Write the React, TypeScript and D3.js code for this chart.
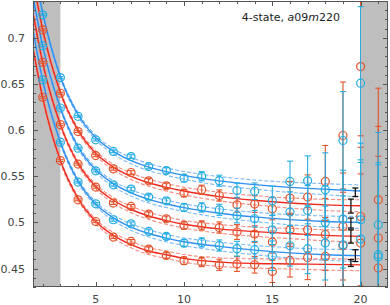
import React, { useEffect, useRef } from 'react';
import * as d3 from 'd3';

// time slices
const tValues = [2, 3, 4, 5, 6, 7, 8, 9, 10, 11, 12, 13, 14, 15, 16, 17, 18, 19, 20, 21];

// data points, top curve first
const blue1 = [0.725, 0.657, 0.615, 0.5895, 0.577, 0.5714, 0.5606, 0.5563, 0.548, 0.55, 0.5452, 0.5346, 0.5338, 0.5234, 0.5444, 0.5451, 0.5354, 0.5888, 0.6509, 0.4975];
const red1 = [0.7087, 0.64, 0.5985, 0.5725, 0.5581, 0.5541, 0.5451, 0.5397, 0.5318, 0.5354, 0.5292, 0.5191, 0.5199, 0.5148, 0.5264, 0.5275, 0.5444, 0.5942, 0.6689, 0.5245];
const blue2 = [0.6916, 0.624, 0.5805, 0.5559, 0.5408, 0.5361, 0.5275, 0.5234, 0.5162, 0.5162, 0.5137, 0.5075, 0.504, 0.492, 0.5112, 0.5129, 0.4999, 0.5036, 0.5029, 0.465];
const red2 = [0.6736, 0.606, 0.5632, 0.5383, 0.521, 0.5173, 0.509, 0.504, 0.4967, 0.4967, 0.4945, 0.4896, 0.4874, 0.4787, 0.492, 0.492, 0.487, 0.4956, 0.5064, 0.4831];
const blue3 = [0.6545, 0.587, 0.5437, 0.5202, 0.5029, 0.4985, 0.4902, 0.4848, 0.4776, 0.4783, 0.475, 0.4715, 0.4704, 0.4639, 0.4747, 0.4715, 0.4776, 0.4758, 0.482, 0.4625];
const red3 = [0.6357, 0.567, 0.5245, 0.501, 0.4841, 0.4794, 0.4711, 0.4642, 0.4585, 0.4571, 0.4541, 0.4549, 0.4541, 0.4469, 0.4588, 0.462, 0.4631, 0.4747, 0.4776, 0.4506];

const blueErr = [0.001, 0.001, 0.001, 0.0012, 0.0015, 0.002, 0.0025, 0.003, 0.004, 0.005, 0.006, 0.008, 0.009, 0.016, 0.022, 0.027, 0.04, 0.053, 0.083, 0.1];
const redErr = [0.001, 0.001, 0.001, 0.0012, 0.0015, 0.002, 0.0025, 0.003, 0.004, 0.005, 0.006, 0.008, 0.009, 0.012, 0.018, 0.024, 0.039, 0.058, 0.075, 0.121];

// fit curves read at these t
const fitT = [1.45, 2, 3, 4, 5, 6, 7, 8, 9, 10, 12, 14, 16, 18, 20];
const fitBlue1 = [0.781, 0.727, 0.658, 0.617, 0.592, 0.577, 0.567, 0.56, 0.555, 0.551, 0.545, 0.541, 0.538, 0.536, 0.534];
const fitRed1 = [0.763, 0.709, 0.641, 0.6, 0.575, 0.56, 0.55, 0.543, 0.538, 0.534, 0.528, 0.524, 0.521, 0.519, 0.518];
const fitBlue2 = [0.745, 0.691, 0.624, 0.582, 0.557, 0.542, 0.532, 0.525, 0.52, 0.516, 0.51, 0.506, 0.503, 0.501, 0.5];
const fitRed2 = [0.727, 0.673, 0.606, 0.564, 0.539, 0.524, 0.514, 0.507, 0.502, 0.498, 0.493, 0.49, 0.488, 0.486, 0.485];
const fitBlue3 = [0.708, 0.654, 0.587, 0.545, 0.52, 0.505, 0.495, 0.488, 0.483, 0.479, 0.474, 0.47, 0.467, 0.465, 0.464];
const fitRed3 = [0.689, 0.635, 0.567, 0.526, 0.501, 0.486, 0.476, 0.469, 0.465, 0.461, 0.457, 0.4555, 0.455, 0.4545, 0.454];
const fitBand = [0.003, 0.0025, 0.002, 0.002, 0.0025, 0.003, 0.0035, 0.0038, 0.004, 0.0042, 0.0047, 0.005, 0.0055, 0.006, 0.0065];

// black bars at the end of the fits
const plateauT = [19.7, 19.45, 19.45, 19.45, 19.7, 19.45];
const plateauVal = [0.5327, 0.5177, 0.4993, 0.4848, 0.464, 0.456];
const plateauErr = [0.0046, 0.0076, 0.0054, 0.0072, 0.0064, 0.0037];

// excluded regions
const excludedLeft = [1.45, 3];
const excludedRight = [20.05, 21.55];

const xTicksMajor = [5, 10, 15, 20];
const yTicksMajor = [0.45, 0.5, 0.55, 0.6, 0.65, 0.7];

const App = () => {
    const ref = useRef<SVGSVGElement>(null);

    const width = 390;
    const height = 305;
    const plot_left = 33;
    const plot_right = 388;
    const plot_top = 1;
    const plot_bottom = 287;

    const red_point = '#e4522a';
    const blue_point = '#22ade2';
    const red_line = '#f2281c';
    const blue_line = '#2f8ef2';
    const red_dash = '#f58a80';
    const blue_dash = '#7db8f6';
    const axis_color = '#555555';
    const font = '"DejaVu Sans", sans-serif';

    useEffect(() => {
        const svg = d3.select(ref.current);
        svg.selectAll('*').remove();

        const x = d3.scaleLinear().domain([1.45, 21.55]).range([plot_left, plot_right]);
        const y = d3.scaleLinear().domain([0.43, 0.74]).range([plot_bottom, plot_top]);

        svg.append('defs').append('clipPath').attr('id', 'plot-clip')
            .append('rect')
            .attr('x', plot_left).attr('y', plot_top)
            .attr('width', plot_right - plot_left).attr('height', plot_bottom - plot_top);

        const plot = svg.append('g').attr('clip-path', 'url(#plot-clip)');

        // gray bands
        [excludedLeft, excludedRight].forEach(b => {
            plot.append('rect')
                .attr('x', x(b[0]))
                .attr('y', plot_top)
                .attr('width', x(b[1]) - x(b[0]))
                .attr('height', plot_bottom - plot_top)
                .attr('fill', '#bebebe');
        });

        const fits = [
            { v: fitBlue1, line: blue_line, dash: blue_dash },
            { v: fitRed1, line: red_line, dash: red_dash },
            { v: fitBlue2, line: blue_line, dash: blue_dash },
            { v: fitRed2, line: red_line, dash: red_dash },
            { v: fitBlue3, line: blue_line, dash: blue_dash },
            { v: fitRed3, line: red_line, dash: red_dash },
        ];

        const lineGen = d3.line<[number, number]>()
            .x(d => x(d[0]))
            .y(d => y(d[1]))
            .curve(d3.curveMonotoneX);

        fits.forEach(f => {
            [-1, 1].forEach(s => {
                plot.append('path')
                    .attr('d', lineGen(fitT.map((t, i) => [t, f.v[i] + s * fitBand[i]])))
                    .attr('fill', 'none')
                    .attr('stroke', f.dash)
                    .attr('stroke-width', 1.1)
                    .attr('stroke-dasharray', '4,2');
            });
        });
        fits.forEach(f => {
            plot.append('path')
                .attr('d', lineGen(fitT.map((t, i) => [t, f.v[i]])))
                .attr('fill', 'none')
                .attr('stroke', f.line)
                .attr('stroke-width', 1.4);
        });

        const series = [
            { v: red3, err: redErr, color: red_point },
            { v: red2, err: redErr, color: red_point },
            { v: red1, err: redErr, color: red_point },
            { v: blue3, err: blueErr, color: blue_point },
            { v: blue2, err: blueErr, color: blue_point },
            { v: blue1, err: blueErr, color: blue_point },
        ];

        const cap = 3;
        series.forEach(s => {
            const g = plot.append('g').attr('stroke', s.color).attr('fill', 'none');
            const pts = tValues.map((t, i) => ({ t, v: s.v[i], e: s.err[i] }));
            pts.forEach(p => {
                const cx = x(p.t);
                const y0 = y(p.v - p.e);
                const y1 = y(p.v + p.e);
                g.append('line').attr('x1', cx).attr('x2', cx).attr('y1', y0).attr('y2', y1).attr('stroke-width', 1.1);
                [y0, y1].forEach(yy => {
                    g.append('line').attr('x1', cx - cap).attr('x2', cx + cap).attr('y1', yy).attr('y2', yy).attr('stroke-width', 1.1);
                });
                g.append('circle').attr('cx', cx).attr('cy', y(p.v)).attr('r', 4).attr('stroke-width', 1.2);
            });
        });

        // black bars
        plateauT.forEach((t, i) => {
            const cx = x(t);
            const y0 = y(plateauVal[i] - plateauErr[i]);
            const y1 = y(plateauVal[i] + plateauErr[i]);
            const g = plot.append('g').attr('stroke', '#111111').attr('stroke-width', 1.3);
            g.append('line').attr('x1', cx).attr('x2', cx).attr('y1', y0).attr('y2', y1);
            [y0, y1].forEach(yy => {
                g.append('line').attr('x1', cx - cap).attr('x2', cx + cap).attr('y1', yy).attr('y2', yy);
            });
        });

        // frame
        svg.append('rect')
            .attr('x', plot_left + 0.5)
            .attr('y', plot_top + 0.5)
            .attr('width', plot_right - plot_left - 1)
            .attr('height', plot_bottom - plot_top - 1)
            .attr('fill', 'none')
            .attr('stroke', axis_color)
            .attr('stroke-width', 1);

        const ticks = svg.append('g').attr('stroke', axis_color).attr('stroke-width', 1);
        d3.range(2, 22).forEach(t => {
            const len = xTicksMajor.includes(t) ? 5 : 3;
            const xx = Math.round(x(t)) + 0.5;
            ticks.append('line').attr('x1', xx).attr('x2', xx).attr('y1', plot_bottom).attr('y2', plot_bottom - len);
            ticks.append('line').attr('x1', xx).attr('x2', xx).attr('y1', plot_top).attr('y2', plot_top + len);
        });
        d3.range(43, 75).forEach(k => {
            const v = k / 100;
            const len = k % 5 === 0 ? 5 : 3;
            const yy = Math.round(y(v)) + 0.5;
            ticks.append('line').attr('x1', plot_left).attr('x2', plot_left + len).attr('y1', yy).attr('y2', yy);
            ticks.append('line').attr('x1', plot_right).attr('x2', plot_right - len).attr('y1', yy).attr('y2', yy);
        });

        // tick labels
        xTicksMajor.forEach(t => {
            svg.append('text')
                .attr('x', x(t))
                .attr('y', 303)
                .attr('text-anchor', 'middle')
                .style('font-family', font)
                .style('font-size', '11px')
                .attr('fill', '#444444')
                .text(t);
        });
        yTicksMajor.forEach(v => {
            svg.append('text')
                .attr('x', 25)
                .attr('y', y(v) + 4)
                .attr('text-anchor', 'end')
                .style('font-family', font)
                .style('font-size', '11px')
                .attr('fill', '#444444')
                .text(String(v));
        });

        // annotation
        const label = svg.append('text')
            .attr('x', 340)
            .attr('y', 21)
            .attr('text-anchor', 'end')
            .style('font-family', font)
            .style('font-size', '11px')
            .attr('fill', '#222222');
        label.append('tspan').text('4-state, ');
        label.append('tspan').style('font-style', 'italic').text('a');
        label.append('tspan').text('09');
        label.append('tspan').style('font-style', 'italic').text('m');
        label.append('tspan').text('220');
    }, []);

    return (
        <svg
            ref={ref}
            width={width}
            height={height}
            style={{ position: 'absolute', left: 0, top: 0, background: '#ffffff' }}
        ></svg>
    );
};

export default App;
